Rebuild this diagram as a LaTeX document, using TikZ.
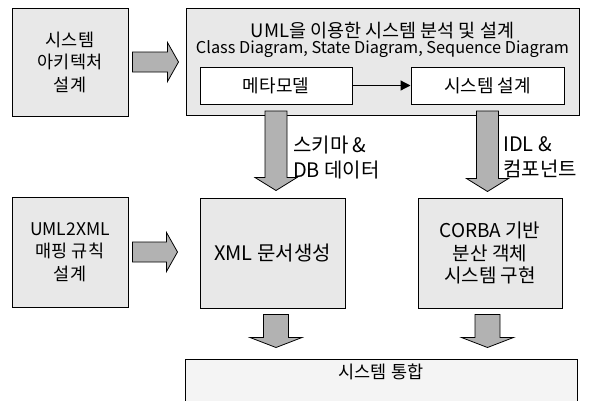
\documentclass[tikz,border=0pt]{standalone}
\usepackage{fontspec}
\setmainfont{Noto Sans CJK KR}
\usetikzlibrary{arrows.meta,positioning,calc}

\newcommand{\fsz}[1]{\fontsize{#1}{22.5}\selectfont}

\begin{document}
\begin{tikzpicture}[
    x=1pt, y=-1pt,
    every node/.style={font=\fsz{17.5}},
    box/.style={rectangle, draw, line width=1pt, fill=gray!18, align=center, inner sep=0pt, minimum width=#1, minimum height=110pt},
    inbox/.style={rectangle, draw, line width=1pt, fill=white, inner sep=0pt, minimum width=152pt, minimum height=37pt, font=\fsz{18}},
    note/.style={align=left, anchor=west, inner sep=0pt, font=\fontsize{20}{25}\selectfont},
    fat/.style n args={3}{draw, line width=0.8pt, fill=gray!60, to path={
        ($(\tikztotarget)!#3!(\tikztostart)$) coordinate (fh)
        ($(\tikztostart)!#1!90:(\tikztotarget)$)
        -- ($(fh)!#1!90:(\tikztotarget)$) -- ($(fh)!#2!90:(\tikztotarget)$)
        -- (\tikztotarget)
        -- ($(fh)!#2!-90:(\tikztotarget)$) -- ($(fh)!#1!-90:(\tikztotarget)$)
        -- ($(\tikztostart)!#1!-90:(\tikztotarget)$) -- cycle}},
]
\clip (0,0) rectangle (591,400);

% top row
\node[box=116pt, minimum height=108pt] (arch) at (70,62) {시스템\\아키텍처\\설계};
\node[box=393pt, minimum height=107pt, right=57pt of arch] (uml) {};
\node[font=\fsz{18.5}] (umltitle) at ([yshift=-23pt]uml.north) {UML을 이용한 시스템 분석 및 설계};
\node[font=\fsz{16.3}] (umlsub) at ([yshift=-41pt]uml.north) {Class Diagram, State Diagram, Sequence Diagram};
\node[inbox] (meta) at (276,85.5) {메타모델};
\node[inbox, minimum width=153pt, right=58pt of meta] (sysdes) {시스템 설계};
\draw[-{Triangle[length=10pt,width=10pt]}, line width=1.2pt] (meta) -- (sysdes);

% middle row
\node[box=116pt] (map) at (70,252) {UML2XML\\매핑 규칙\\설계};
\node[box=145pt, font=\fsz{20}] (xml) at (272.5,253) {XML 문서생성};
\node[box=144pt, font=\fsz{19}] (corba) at (490,253) {CORBA 기반\\분산 객체\\시스템 구현};

% bottom
\node[box=392pt, minimum height=80pt, fill=gray!9] (integ) at (381,399) {};
\node (integtext) at ([yshift=-13pt]integ.north) {시스템 통합};

% fat arrows
\coordinate (h1s) at ([xshift=4pt]arch.east);
\coordinate (h1e) at ([xshift=-7pt]uml.west |- arch.east);
\coordinate (h2s) at ([xshift=4pt]map.east);
\coordinate (h2e) at ([xshift=-22pt]xml.west |- map.east);
\coordinate (d1s) at ([yshift=5pt]meta.south |- uml.south);
\coordinate (d1e) at ([yshift=7pt]meta.south |- xml.north);
\coordinate (d2s) at ([yshift=5pt]sysdes.south |- uml.south);
\coordinate (d2e) at ([yshift=6pt]sysdes.south |- corba.north);
\coordinate (d3s) at ([yshift=-6pt]meta.south |- xml.south);
\coordinate (d3e) at ([yshift=11pt]meta.south |- integ.north);
\coordinate (d4s) at ([yshift=-6pt]sysdes.south |- corba.south);
\coordinate (d4e) at ([yshift=11pt]sysdes.south |- integ.north);

\draw[fat={10pt}{19.5pt}{11pt}] (h1s) to (h1e);
\draw[fat={10pt}{19.5pt}{11pt}] (h2s) to (h2e);
\draw[fat={11pt}{21pt}{13pt}] (d1s) to (d1e);
\draw[fat={11pt}{21pt}{13pt}] (d2s) to (d2e);
\draw[fat={12.5pt}{26pt}{10pt}] (d3s) to (d3e);
\draw[fat={12.5pt}{26pt}{10pt}] (d4s) to (d4e);

% arrow labels
\node[note] (lab1) at (293,157.5) {스키마 \&\\DB 데이터};
\node[note] (lab2) at (503,157.5) {IDL \&\\컴포넌트};

\end{tikzpicture}
\end{document}
